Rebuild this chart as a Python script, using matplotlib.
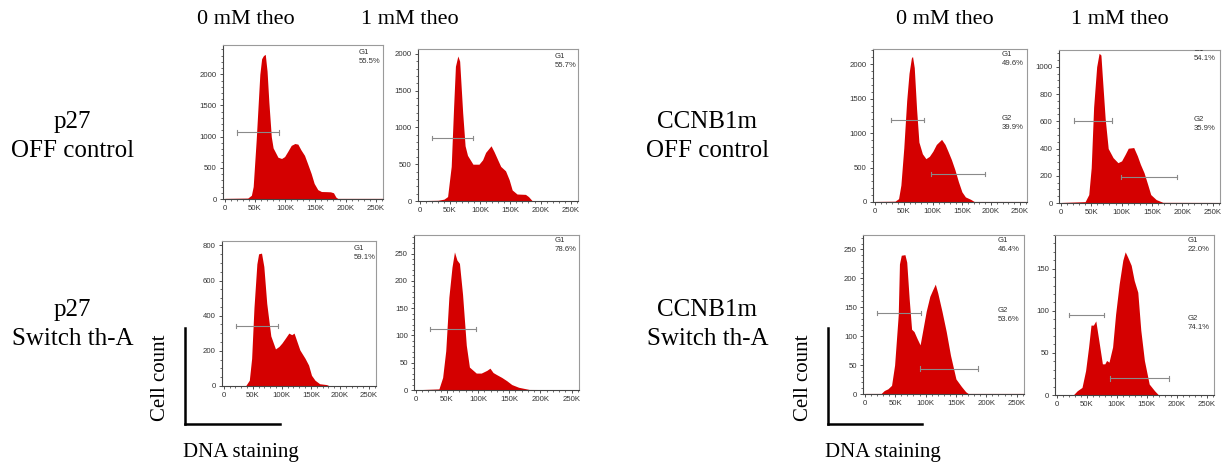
import matplotlib
matplotlib.use("Agg")
import matplotlib.pyplot as plt
from matplotlib.ticker import AutoMinorLocator, MultipleLocator

# ---------------- data (x in K units of DNA staining, y = cell count) ----------------
col_headers = ["0 mM theo", "1 mM theo"]
row_labels_left = [("p27", "OFF control"), ("p27", "Switch th-A")]
row_labels_right = [("CCNB1m", "OFF control"), ("CCNB1m", "Switch th-A")]
x_ticks = [0, 50, 100, 150, 200, 250]
x_tick_labels = ["0", "50K", "100K", "150K", "200K", "250K"]

# p27 OFF control, 0 mM
p1_x = [0, 38, 44, 47, 52, 58, 61, 64, 67, 70, 73, 77, 80, 88, 94, 99, 104, 110, 116, 121, 126,
        132, 137, 143, 148, 154, 160, 168, 175, 180, 184, 187, 262]
p1_y = [10, 15, 60, 200, 950, 2000, 2250, 2300, 2320, 2050, 1550, 1000, 820, 670, 650, 680, 760,
        860, 890, 880, 790, 700, 570, 410, 250, 150, 120, 118, 115, 100, 30, 10, 10]
# p27 OFF control, 1 mM
p2_x = [0, 30, 40, 46, 52, 56, 59, 63, 66, 71, 75, 79, 88, 98, 104, 109, 115, 118, 123, 129, 134,
        142, 148, 153, 161, 175, 180, 186, 262]
p2_y = [5, 10, 25, 60, 470, 1280, 1830, 1970, 1900, 1200, 750, 620, 500, 500, 560, 660, 720, 750,
        670, 560, 470, 410, 290, 150, 95, 90, 60, 5, 5]
# p27 Switch th-A, 0 mM
p3_x = [0, 38, 44, 48, 52, 57, 60, 65, 69, 74, 81, 89, 95, 100, 106, 112, 117, 121, 126, 131, 140,
        146, 151, 157, 165, 177, 182, 262]
p3_y = [2, 3, 33, 157, 445, 695, 752, 756, 680, 470, 285, 211, 225, 244, 272, 301, 292, 301, 253,
        205, 157, 119, 61, 33, 13, 8, 1, 1]
# p27 Switch th-A, 1 mM
p4_x = [0, 37, 43, 48, 53, 58, 62, 66, 70, 75, 81, 86, 97, 105, 114, 119, 124, 130, 138, 146, 154,
        165, 182, 262]
p4_y = [0.5, 2, 23, 72, 170, 225, 253, 238, 232, 175, 82, 42, 31, 31, 36, 40, 32, 28, 23, 17, 10,
        5, 1, 0.5]
# CCNB1m OFF control, 0 mM
p5_x = [0, 35, 41, 45, 50, 55, 59, 63, 65, 68, 72, 76, 82, 88, 94, 100, 106, 115, 121, 126, 132,
        138, 144, 150, 156, 165, 171, 262]
p5_y = [8, 12, 49, 246, 786, 1474, 1867, 2088, 2113, 1950, 1350, 870, 700, 629, 663, 737, 835, 909,
        835, 737, 614, 467, 295, 147, 74, 39, 8, 8]
# CCNB1m OFF control, 1 mM
p6_x = [0, 40, 46, 50, 54, 59, 63, 66, 68, 73, 78, 86, 94, 100, 106, 111, 120, 126, 131, 137, 143,
        148, 157, 168, 262]
p6_y = [4, 10, 62, 259, 704, 1000, 1099, 1086, 950, 620, 400, 333, 296, 309, 358, 402, 407, 346,
        284, 222, 136, 62, 25, 5, 4]
# CCNB1m Switch th-A, 0 mM
p7_x = [0, 27, 32, 38, 44, 49, 55, 57, 60, 66, 69, 73, 77, 81, 86, 91, 95, 101, 107, 112, 116, 120,
        127, 134, 141, 150, 159, 166, 170, 262]
p7_y = [1, 1, 6, 9, 15, 50, 137, 225, 240, 241, 228, 165, 112, 108, 96, 85, 108, 143, 169, 181,
        190, 175, 143, 108, 67, 26, 13, 4, 1, 1]
# CCNB1m Switch th-A, 1 mM
p8_x = [0, 28, 34, 42, 48, 53, 57, 61, 65, 70, 76, 80, 83, 87, 93, 98, 104, 110, 114, 118, 124,
        129, 135, 140, 146, 154, 163, 169, 262]
p8_y = [0.5, 0.5, 5, 9, 29, 57, 83, 83, 88, 65, 37, 37, 41, 39, 57, 96, 132, 160, 170, 164, 154,
        136, 122, 77, 41, 13, 5, 0.5, 0.5]

# y-axis upper limits and major tick steps
y_tops = [2470, 2065, 825, 284, 2220, 1123, 275, 190]
y_steps = [500, 500, 200, 50, 500, 200, 50, 50]

# gates: (x_start, x_end, y_level) and label text
g1_gates = [(21, 90, 1070), (21, 88, 853), (21, 93, 343), (22, 97, 112),
            (28, 84, 1190), (22, 85, 605), (20, 92, 140), (21, 79, 95)]
g2_gates = [None, None, None, None,
            (97, 189, 408), (99, 191, 190), (91, 186, 44), (89, 187, 20)]
g1_text = ["55.5%", "55.7%", "59.1%", "78.6%", "49.6%", "54.1%", "46.4%", "22.0%"]
g2_text = [None, None, None, None, "39.9%", "35.9%", "53.6%", "74.1%"]

# ---------------- layout ----------------
W, H = 1225, 465
fig = plt.figure(figsize=(W / 100, H / 100), dpi=100)

# axes boxes in pixel coords (left, top, right, bottom)
boxes = [(223, 45, 383, 199), (418, 49, 578, 201),
         (222, 241, 376, 386), (414, 235, 579, 390),
         (873, 49, 1027, 202), (1059, 50, 1220, 203),
         (863, 235, 1024, 394), (1055, 235, 1214, 395)]
g1_pos = [(0.85, 0.975), (0.855, 0.975), (0.855, 0.97), (0.855, 0.985),
          (0.835, 0.985), (0.835, 1.025), (0.835, 0.985), (0.835, 0.985)]
g2_pos = [None, None, None, None, (0.835, 0.57), (0.835, 0.57), (0.835, 0.55), (0.835, 0.5)]

datasets = [(p1_x, p1_y), (p2_x, p2_y), (p3_x, p3_y), (p4_x, p4_y),
            (p5_x, p5_y), (p6_x, p6_y), (p7_x, p7_y), (p8_x, p8_y)]

RED = "#d40000"
GATE = "#8a8a8a"
TICKC = "#333333"
SANS = "Liberation Sans"

for i, (box, (xs, ys)) in enumerate(zip(boxes, datasets)):
    l, t, r, b = box
    ax = fig.add_axes([l / W, 1 - b / H, (r - l) / W, (b - t) / H])
    ax.fill_between(xs, 0, ys, color=RED, linewidth=0)
    ax.set_xlim(-3, 262)
    ax.set_ylim(0, y_tops[i])
    ax.set_xticks(x_ticks)
    ax.set_xticklabels(x_tick_labels)
    ax.yaxis.set_major_locator(MultipleLocator(y_steps[i]))
    ax.xaxis.set_minor_locator(MultipleLocator(10))
    ax.yaxis.set_minor_locator(AutoMinorLocator())
    ax.tick_params(which="major", length=2.5, width=0.6, labelsize=5.6, colors=TICKC, pad=2)
    ax.tick_params(which="minor", length=1.5, width=0.5, colors=TICKC)
    for lab in ax.get_xticklabels() + ax.get_yticklabels():
        lab.set_family(SANS)
    for s in ["left", "bottom"]:
        ax.spines[s].set_color("#444444")
        ax.spines[s].set_linewidth(0.8)
    for s in ["top", "right"]:
        ax.spines[s].set_color("#9a9a9a")
        ax.spines[s].set_linewidth(0.8)
    # gates
    x0, x1, yl = g1_gates[i]
    ax.plot([x0, x1], [yl, yl], color=GATE, lw=0.8, zorder=3)
    cap = y_tops[i] * 0.015
    for xx in (x0, x1):
        ax.plot([xx, xx], [yl - cap, yl + cap], color=GATE, lw=0.8, zorder=3)
    gx, gy = g1_pos[i]
    ax.text(gx, gy, "G1\n" + g1_text[i], transform=ax.transAxes, ha="left", va="top",
            fontsize=5.6, color="#333333", linespacing=1.4, family=SANS,
            clip_on=True)
    if g2_gates[i] is not None:
        x0, x1, yl = g2_gates[i]
        ax.plot([x0, x1], [yl, yl], color=GATE, lw=0.8, zorder=3)
        for xx in (x0, x1):
            ax.plot([xx, xx], [yl - cap, yl + cap], color=GATE, lw=0.8, zorder=3)
        gx, gy = g2_pos[i]
        ax.text(gx, gy, "G2\n" + g2_text[i], transform=ax.transAxes, ha="left", va="top",
                fontsize=5.6, color="#333333", linespacing=1.4, family=SANS)

# ---------------- text ----------------
SERIF = "Liberation Serif"
def ftext(x, y, s, **kw):
    fig.text(x / W, 1 - y / H, s, family=SERIF, ha="center", va="center", **kw)

for cx, hdr in zip([246, 410, 945, 1120], col_headers * 2):
    ftext(cx, 20, hdr, fontsize=16)

for (a, bb), yy in zip(row_labels_left, [122, 310]):
    ftext(72, yy, a, fontsize=18)
    ftext(73, yy + 29, bb, fontsize=18)
for (a, bb), yy in zip(row_labels_right, [122, 310]):
    ftext(707, yy, a, fontsize=18)
    ftext(708, yy + 29, bb, fontsize=18)

# scale-bar style axis indicators
for vx, hx1, lx, dx in [(185, 280, 160, 241), (828, 922, 803, 883)]:
    fig.add_artist(plt.Line2D([vx / W, vx / W], [1 - 328 / H, 1 - 424 / H], color="black", lw=1.8))
    fig.add_artist(plt.Line2D([vx / W, hx1 / W], [1 - 424 / H, 1 - 424 / H], color="black", lw=1.8))
    ftext(lx, 378, "Cell count", fontsize=15, rotation=90)
    ftext(dx, 452, "DNA staining", fontsize=15)

fig.savefig("out.png", dpi=100)
